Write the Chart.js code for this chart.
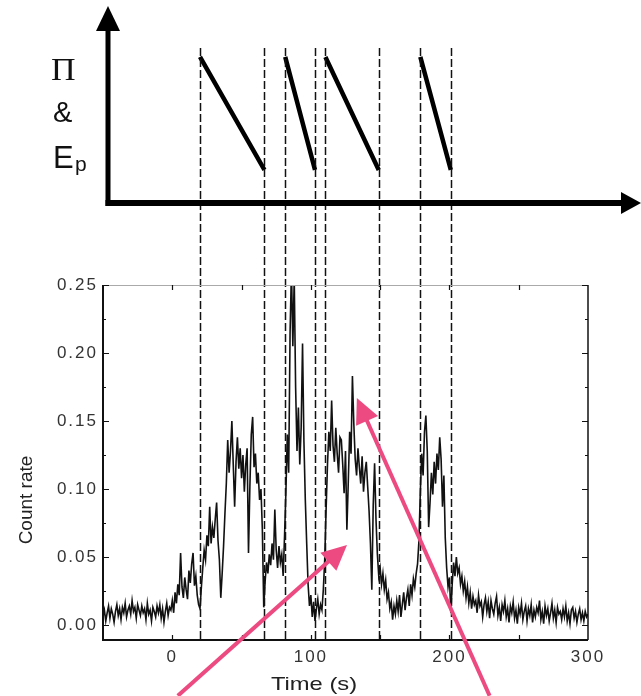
<!DOCTYPE html>
<html>
<head>
<meta charset="utf-8">
<script src="https://cdn.jsdelivr.net/npm/chart.js@4/dist/chart.umd.min.js"></script>
<style>
html,body{margin:0;padding:0;background:#fff;overflow:hidden}
canvas{display:block}
</style>
</head>
<body>
<canvas id="c" width="641" height="696"></canvas>
<script>
// ---- data ----
const timeStart = -50;          // first 1-s bin (s)
const timeEnd = 300;            // axis end (s)
const countRate = [
  0.006,0.011,0.003,0.009,0.014,0.005,0.012,0.008,0.002,0.010,
  0.015,0.007,0.012,0.004,0.013,0.009,0.016,0.006,0.011,0.014,
  0.008,0.018,0.010,0.013,0.005,0.015,0.011,0.007,0.014,0.009,
  0.012,0.004,0.016,0.008,0.011,0.003,0.013,0.010,0.006,0.014,
  0.009,0.015,0.005,0.012,0.002,0.010,0.016,0.007,0.013,0.011,
  0.018,0.009,0.024,0.016,0.030,0.022,0.053,0.028,0.020,0.035,
  0.026,0.019,0.040,0.031,0.045,0.053,0.029,0.036,0.022,0.015,
  0.012,0.028,0.042,0.055,0.048,0.066,0.058,0.087,0.060,0.072,
  0.064,0.078,0.090,0.062,0.048,0.020,0.038,0.058,0.082,0.104,
  0.136,0.112,0.128,0.150,0.118,0.087,0.120,0.138,0.115,0.130,
  0.108,0.125,0.098,0.118,0.130,0.053,0.102,0.140,0.153,0.116,
  0.126,0.104,0.112,0.092,0.100,0.070,0.013,0.032,0.046,0.038,
  0.052,0.044,0.060,0.048,0.085,0.055,0.042,0.058,0.046,0.052,
  0.036,0.065,0.098,0.140,0.112,0.215,0.262,0.205,0.255,0.175,
  0.128,0.160,0.118,0.145,0.207,0.135,0.092,0.060,0.030,0.014,
  0.022,0.006,0.017,0.003,0.012,0.019,0.008,0.015,0.011,0.026,
  0.048,0.085,0.118,0.142,0.128,0.165,0.132,0.120,0.145,0.126,
  0.112,0.138,0.136,0.118,0.097,0.128,0.070,0.105,0.142,0.126,
  0.183,0.148,0.122,0.110,0.130,0.116,0.104,0.124,0.098,0.112,
  0.120,0.102,0.084,0.060,0.026,0.088,0.119,0.078,0.052,0.036,
  0.042,0.030,0.038,0.026,0.033,0.019,0.024,0.012,0.017,0.004,
  0.014,0.008,0.018,0.010,0.022,0.006,0.015,0.024,0.011,0.020,
  0.026,0.014,0.030,0.022,0.034,0.028,0.038,0.045,0.062,0.098,
  0.126,0.110,0.142,0.154,0.128,0.072,0.090,0.112,0.096,0.120,
  0.104,0.126,0.114,0.138,0.122,0.087,0.110,0.064,0.042,0.028,
  0.035,0.009,0.030,0.046,0.036,0.050,0.038,0.042,0.030,0.036,
  0.025,0.032,0.020,0.028,0.016,0.024,0.012,0.021,0.015,0.018,
  0.009,0.022,0.014,0.017,0.006,0.015,0.020,0.010,0.017,0.005,
  0.018,0.012,0.008,0.016,0.021,0.007,0.013,0.003,0.015,0.010,
  0.018,0.006,0.012,0.002,0.014,0.009,0.017,0.005,0.011,0.001,
  0.013,0.008,0.016,0.004,0.010,0.014,0.003,0.012,0.007,0.015,
  0.002,0.011,0.006,0.013,0.009,0.018,0.004,0.010,0.001,0.014,
  0.007,0.012,0.003,0.009,0.016,0.005,0.011,0.002,0.013,0.008,
  0.010,0.004,0.012,0.006,0.014,0.003,0.009,0.001,0.011,0.013,
  0.005,0.010,0.002,0.008,0.012,0.004,0.009,0.003,0.010,0.006,
  0.008
];
// time bins of the light curve (1 s each)
const times = countRate.map((_, i) => timeStart + i);

// pulses of the schematic Π & Ep panel (start = high, end = low)
const pulseStart = [20, 81.5, 110.5, 179];
const pulseEnd   = [66.5, 103, 149, 201];
const levelHigh = 1;
const levelLow = 0;

// axis ticks
const xTickValues = [0, 100, 200, 300];
const xTickLabels = ['0', '100', '200', '300'];
const yTickValues = [0.00, 0.05, 0.10, 0.15, 0.20, 0.25];
const yTickLabels = ['0.00', '0.05', '0.10', '0.15', '0.20', '0.25'];

// pink annotation arrows, data coordinates (tail -> tip)
const arrowTailX = [4, 229];
const arrowTailY = [-0.052, -0.052];
const arrowTipX  = [126.1, 133.2];
const arrowTipY  = [0.0588, 0.1669];

// ---- build datasets ----
const curve = times.map((t, i) => ({ x: t, y: countRate[i] }));
const saw = [];
pulseStart.forEach((s, i) => {
  saw.push({ x: s, y: levelHigh });
  saw.push({ x: pulseEnd[i], y: levelLow });
  saw.push({ x: pulseEnd[i], y: null });
});

const PINK = 'rgb(236,74,128)';

function arrow(ctx, x0, y0, x1, y1, len, hw) {
  const dx = x1 - x0, dy = y1 - y0, L = Math.hypot(dx, dy);
  const ux = dx / L, uy = dy / L;
  const bx = x1 - ux * len, by = y1 - uy * len;
  ctx.beginPath(); ctx.moveTo(x0, y0); ctx.lineTo(bx + ux * 2, by + uy * 2); ctx.stroke();
  ctx.beginPath();
  ctx.moveTo(x1, y1);
  ctx.lineTo(bx - uy * hw, by + ux * hw);
  ctx.lineTo(bx + uy * hw, by - ux * hw);
  ctx.closePath(); ctx.fill();
}

const decor = {
  id: 'decor',
  beforeDraw(chart) { chart.ctx.letterSpacing = '2px'; },
  afterDraw(chart) {
    const ctx = chart.ctx;
    const xs = chart.scales.x, ys = chart.scales.y;
    const a = chart.chartArea;
    ctx.save();
    ctx.letterSpacing = '0px';

    // dashed phase boundaries
    ctx.strokeStyle = '#111'; ctx.lineWidth = 1.5; ctx.setLineDash([8, 3]);
    pulseStart.concat(pulseEnd).forEach(t => {
      const x = Math.round(xs.getPixelForValue(t)) + 0.5;
      ctx.beginPath(); ctx.moveTo(x, 48); ctx.lineTo(x, a.bottom); ctx.stroke();
    });
    ctx.setLineDash([]);

    // frame
    ctx.strokeStyle = '#aaa'; ctx.lineWidth = 1;
    ctx.beginPath(); ctx.moveTo(a.left, a.top + 0.5); ctx.lineTo(a.right, a.top + 0.5); ctx.stroke();
    ctx.strokeStyle = '#111'; ctx.lineWidth = 1.5;
    ctx.beginPath(); ctx.moveTo(a.right, a.top); ctx.lineTo(a.right, a.bottom); ctx.stroke();
    ctx.lineWidth = 2;
    ctx.beginPath(); ctx.moveTo(a.left, a.top); ctx.lineTo(a.left, a.bottom); ctx.lineTo(a.right, a.bottom); ctx.stroke();

    // inward ticks
    ctx.lineWidth = 1.2;
    for (let k = 0; k <= 10; k++) {
      const v = k * 0.025;
      const y = Math.round(ys.getPixelForValue(v)) + 0.5;
      const len = k % 2 === 0 ? 6 : 3;
      ctx.beginPath();
      ctx.moveTo(a.left, y); ctx.lineTo(a.left + len, y);
      ctx.moveTo(a.right, y); ctx.lineTo(a.right - len, y);
      ctx.stroke();
    }
    for (let t = 0; t < timeEnd; t += 50) {
      const x = Math.round(xs.getPixelForValue(t)) + 0.5;
      ctx.beginPath();
      ctx.moveTo(x, a.top); ctx.lineTo(x, a.top + 5);
      ctx.moveTo(x, a.bottom); ctx.lineTo(x, a.bottom - 5);
      ctx.stroke();
    }

    // axis titles
    ctx.fillStyle = '#222';
    ctx.textAlign = 'center'; ctx.textBaseline = 'middle';
    ctx.font = '19px "Liberation Sans", Arial, sans-serif';
    ctx.save(); ctx.translate(27, 500); ctx.rotate(-Math.PI / 2);
    ctx.fillText('Count rate', 0, 0); ctx.restore();
    ctx.save(); ctx.translate(314, 685); ctx.scale(1.25, 1);
    ctx.font = '19px "Liberation Sans", Arial, sans-serif';
    ctx.fillText('Time (s)', 0, 0); ctx.restore();

    // schematic axes (Π & Ep vs time)
    ctx.fillStyle = '#000'; ctx.strokeStyle = '#000';
    ctx.lineWidth = 5;
    ctx.beginPath(); ctx.moveTo(108, 206); ctx.lineTo(108, 28); ctx.stroke();
    ctx.beginPath(); ctx.moveTo(108, 6); ctx.lineTo(96, 31); ctx.lineTo(120, 31); ctx.closePath(); ctx.fill();
    ctx.lineWidth = 6;
    ctx.beginPath(); ctx.moveTo(105.5, 203); ctx.lineTo(624, 203); ctx.stroke();
    ctx.beginPath(); ctx.moveTo(641, 203); ctx.lineTo(621, 192); ctx.lineTo(621, 214); ctx.closePath(); ctx.fill();

    // schematic labels
    ctx.textAlign = 'left'; ctx.textBaseline = 'alphabetic';
    ctx.fillStyle = '#111';
    ctx.save(); ctx.translate(51, 80); ctx.scale(1.1, 1);
    ctx.font = '31px "Liberation Serif", "Times New Roman", serif';
    ctx.fillText('Π', 0, 0); ctx.restore();
    ctx.font = '29px "Liberation Sans", Arial, sans-serif';
    ctx.fillText('&', 53, 122);
    ctx.font = '31px "Liberation Sans", Arial, sans-serif';
    ctx.fillText('E', 53, 168);
    ctx.font = '21px "Liberation Sans", Arial, sans-serif';
    ctx.fillText('p', 75, 171);

    // pink arrows
    ctx.strokeStyle = PINK; ctx.fillStyle = PINK; ctx.lineWidth = 4; ctx.lineCap = 'butt';
    arrowTipX.forEach((tx, i) => {
      arrow(ctx,
        xs.getPixelForValue(arrowTailX[i]), ys.getPixelForValue(arrowTailY[i]),
        xs.getPixelForValue(tx), ys.getPixelForValue(arrowTipY[i]), 25, 12);
    });
    ctx.restore();
  }
};

new Chart(document.getElementById('c'), {
  type: 'line',
  data: {
    datasets: [
      {
        label: 'Count rate',
        data: curve,
        xAxisID: 'x', yAxisID: 'y',
        borderColor: '#111', borderWidth: 1.6,
        pointRadius: 0, tension: 0, fill: false
      },
      {
        label: 'Π & Ep',
        data: saw,
        xAxisID: 'x', yAxisID: 'yTop',
        borderColor: '#000', borderWidth: 4.5, borderCapStyle: 'butt',
        pointRadius: 0, tension: 0, fill: false, spanGaps: false, clip: false
      }
    ]
  },
  options: {
    responsive: false,
    devicePixelRatio: 1,
    animation: false,
    events: [],
    layout: { padding: { top: 285, right: 53, bottom: 0, left: 0 } },
    plugins: { legend: { display: false }, tooltip: { enabled: false } },
    scales: {
      x: {
        type: 'linear', position: 'bottom',
        min: timeStart, max: timeEnd,
        grid: { display: false, drawTicks: false },
        border: { display: false },
        afterBuildTicks: s => { s.ticks = xTickValues.map(v => ({ value: v })); },
        afterFit: s => { s.height = 56; },
        ticks: {
          padding: 7, color: '#333', maxRotation: 0, autoSkip: false,
          font: { family: '"Liberation Sans", Arial, sans-serif', size: 17 },
          callback: v => { const i = xTickValues.indexOf(v); return i >= 0 ? xTickLabels[i] : ''; }
        }
      },
      y: {
        type: 'linear', position: 'left',
        min: -0.011, max: 0.25,
        grid: { display: false, drawTicks: false },
        border: { display: false },
        afterBuildTicks: s => { s.ticks = yTickValues.map(v => ({ value: v })); },
        afterFit: s => { s.width = 103; },
        ticks: {
          padding: 5, color: '#333', autoSkip: false,
          font: { family: '"Liberation Sans", Arial, sans-serif', size: 17 },
          callback: v => { const i = yTickValues.indexOf(v); return i >= 0 ? yTickLabels[i] : ''; }
        }
      },
      yTop: {
        type: 'linear', display: false,
        min: -4.159, max: -1.018
      }
    }
  },
  plugins: [decor]
});
</script>
</body>
</html>
